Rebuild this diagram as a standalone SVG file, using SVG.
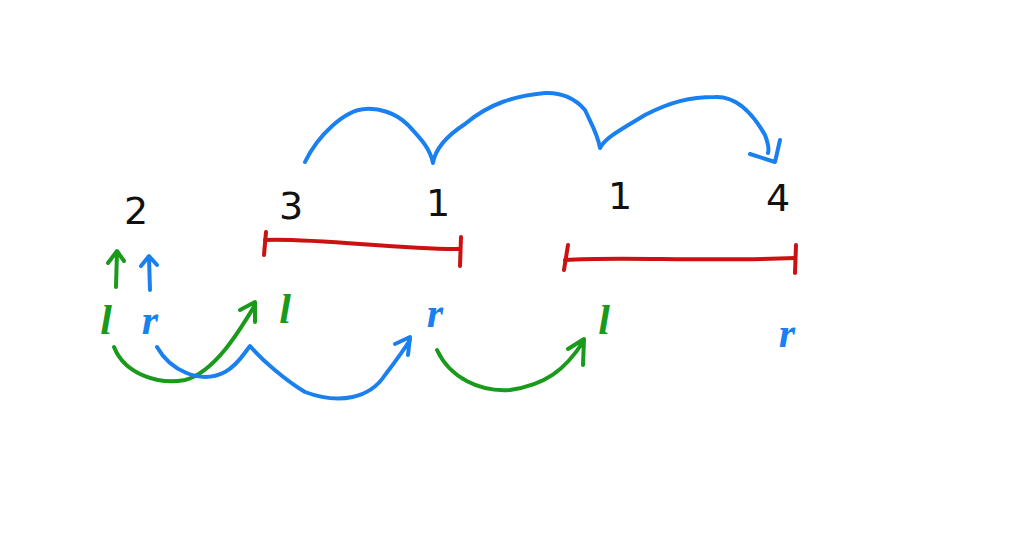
<svg xmlns="http://www.w3.org/2000/svg" width="1024" height="546" viewBox="0 0 1024 546">
<style>
.num{font-family:"DejaVu Sans","Liberation Sans",sans-serif;font-size:38px;fill:#111;text-anchor:middle}
.let{font-family:"Liberation Serif",serif;font-style:italic;font-weight:bold;font-size:42px;text-anchor:middle}
.g{fill:#1a9a1a}.b{fill:#1a80f0}
.s{fill:none;stroke-width:4;stroke-linecap:round;stroke-linejoin:round}
.sg{stroke:#1a9a1a}.sb{stroke:#1a80f0}.sr{stroke:#cc1111}
</style>
<rect width="1024" height="546" fill="#fff"/>
<g id="n2"><text class="num" x="136" y="224">2</text></g>
<g id="n3"><text class="num" x="291" y="219">3</text></g>
<g id="n1a"><text class="num" x="438" y="216">1</text></g>
<g id="n1b"><text class="num" x="620" y="209">1</text></g>
<g id="n4"><text class="num" x="778" y="211">4</text></g>
<g id="seg1" class="s sr">
<path d="M265,240 C320,238 400,250 460,249"/><path d="M266,232 L264,255"/><path d="M461,237 L460,266"/>
</g>
<g id="seg2" class="s sr">
<path d="M565,260 C620,256 700,262 795,258"/><path d="M568,245 L564,270"/><path d="M796,245 L795,273"/>
</g>
<g id="l1"><text class="let g" x="106" y="334">l</text></g>
<g id="r1"><text class="let b" x="150" y="334">r</text></g>
<g id="l2"><text class="let g" x="285" y="323">l</text></g>
<g id="r2"><text class="let b" x="435" y="327">r</text></g>
<g id="l3"><text class="let g" x="604" y="334">l</text></g>
<g id="r3"><text class="let b" x="787" y="347">r</text></g>
<g id="connectors" class="s">
<path class="sg" d="M116,287 L117,252 M108,263 L117,251 L124,261"/>
<path class="sb" d="M150,290 L149,257 M141,266 L149,256 L157,265"/>
<path class="sg" d="M114,347 C125,375 160,385 185,380 C215,372 240,330 255,305 M240,310 L255,302 L255,322"/>
<path class="sb" d="M157,347 C170,370 200,385 225,372 C238,365 245,352 250,346 C262,360 285,380 305,392 C340,405 370,398 385,375 C395,362 405,348 410,340 M395,344 L410,337 L408,355"/>
<path class="sg" d="M437,350 C450,378 480,392 510,390 C545,385 565,370 583,342 M568,349 L584,339 L583,365"/>
<path class="sb" d="M305,162 C318,135 345,110 365,109 C378,108 395,112 408,125 C420,138 430,148 433,163 C435,150 445,137 465,124 C490,103 515,96 545,93 C560,92 575,98 585,110 C592,125 598,135 600,148 C605,138 620,130 645,115 C670,102 690,97 715,97 C735,96 752,112 765,135 C768,143 769,150 768,153 M750,154 L775,162 L780,140"/>
</g>
</svg>
